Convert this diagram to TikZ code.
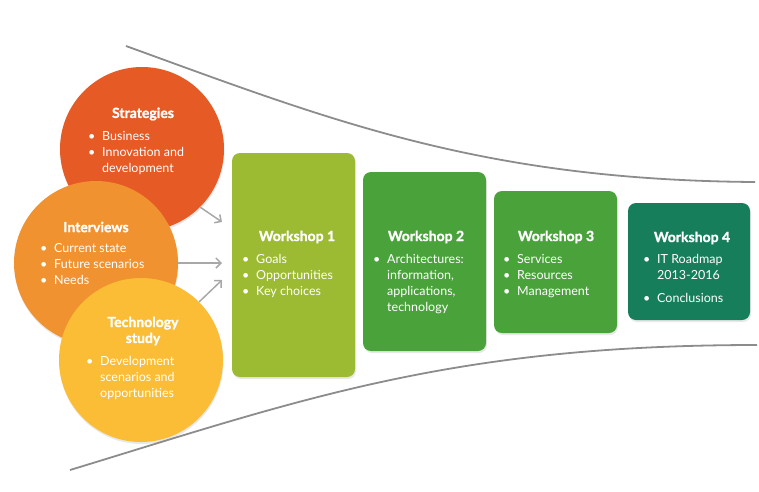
\documentclass[tikz,border=0pt]{standalone}
\usepackage{fontspec}
\setmainfont{Lato}
\newfontfamily\heavyfont[FakeBold=1.3]{Lato}
\usetikzlibrary{shadows,arrows.meta}
\definecolor{cstrat}{HTML}{E55A25}
\definecolor{cinter}{HTML}{F0922F}
\definecolor{ctech}{HTML}{FBBD36}
\definecolor{cwone}{HTML}{9CBA32}
\definecolor{cwtwo}{HTML}{4AA23B}
\definecolor{cwfour}{HTML}{177E5C}
\definecolor{funnelgray}{HTML}{8C8C8C}
\definecolor{arrowgray}{HTML}{A8A8A8}
\tikzset{
  bub/.style={circle, minimum size=164pt, inner sep=0pt,
    drop shadow={opacity=0.18, shadow xshift=0.5pt, shadow yshift=-2pt}},
  wbox/.style={rounded corners=8pt, inner sep=0pt,
    drop shadow={opacity=0.18, shadow xshift=1pt, shadow yshift=-2pt}},
  ttl/.style={text=white, inner sep=0pt, align=center,
    font=\fontsize{14}{16}\heavyfont\bfseries},
  lst/.style={text=white, inner sep=0pt, anchor=base west,
    font=\fontsize{12.5}{16}\selectfont},
  funnel/.style={draw=funnelgray, line width=1.8pt},
  arr/.style={draw=arrowgray, line width=1.5pt,
    -{Straight Barb[length=5pt,width=10pt]}}
}
\newcommand{\blist}[1]{\begin{tabular}[t]{@{}p{14pt}@{}l@{}}#1\end{tabular}}
\begin{document}
\begin{tikzpicture}[x=1pt,y=-1pt]
\useasboundingbox (0,0) rectangle (759,491);
% funnel
\draw[funnel] (126,46) .. controls (330,120) and (480,180) .. (755,182);
\draw[funnel] (70,470) .. controls (300,400) and (450,345) .. (757,345);
% workshops
\node[wbox, fill=cwone, minimum width=123pt, minimum height=224pt] (w1) at (293.5,265) {};
\node[wbox, fill=cwtwo, minimum width=123pt, minimum height=179pt] (w2) at (424.5,261.5) {};
\node[wbox, fill=cwtwo, minimum width=123pt, minimum height=142pt] (w3) at (555.5,262) {};
\node[wbox, fill=cwfour, minimum width=122pt, minimum height=117pt] (w4) at (689,261.5) {};
% circles
\node[bub, fill=cstrat] (strat) at (142,149) {};
\node[bub, fill=cinter] (inter) at (96,263) {};
\node[bub, fill=ctech] (tech) at (141,360) {};
% arrows
\coordinate (e1) at (222,222);
\coordinate (e2) at (222,263);
\coordinate (e3) at (222,280);
\draw[arr] (strat.-45) -- (e1);
\draw[arr] (inter.east) -- (e2);
\draw[arr] (tech.45) -- (e3);
% circle texts
\node[ttl] (strat-t) at (143,114) {Strategies};
\node[lst] (strat-l) at (88,140) {\blist{\textbullet & Business\\ \textbullet & Innovation and\\ & development}};
\node[ttl] (inter-t) at (96,227) {Interviews};
\node[lst] (inter-l) at (40,252) {\blist{\textbullet & Current state\\ \textbullet & Future scenarios\\ \textbullet & Needs}};
\node[ttl] (tech-t) at (143,331) {Technology\\study};
\node[lst] (tech-l) at (86,365) {\blist{\textbullet & Development\\ & scenarios and\\ & opportunities}};
% workshop texts
\node[ttl] (w1-t) at (297,237) {Workshop 1};
\node[lst] (w1-l) at (242,263) {\blist{\textbullet & Goals\\ \textbullet & Opportunities\\ \textbullet & Key choices}};
\node[ttl] (w2-t) at (426,237) {Workshop 2};
\node[lst] (w2-l) at (373,263) {\blist{\textbullet & Architectures:\\ & information,\\ & applications,\\ & technology}};
\node[ttl] (w3-t) at (556,237) {Workshop 3};
\node[lst] (w3-l) at (503,263) {\blist{\textbullet & Services\\ \textbullet & Resources\\ \textbullet & Management}};
\node[ttl] (w4-t) at (692,238) {Workshop 4};
\node[lst] (w4-l) at (643,263) {\blist{\textbullet & IT Roadmap\\ & 2013-2016\\[7pt] \textbullet & Conclusions}};
\end{tikzpicture}
\end{document}
